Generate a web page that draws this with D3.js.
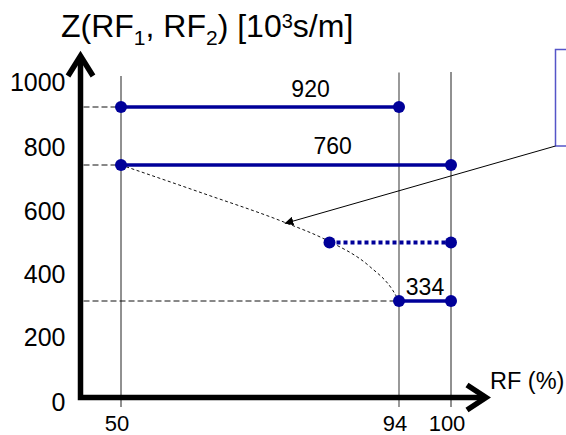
<!DOCTYPE html>
<html>
<head>
<meta charset="utf-8">
<script src="https://cdn.jsdelivr.net/npm/d3@7/dist/d3.min.js"></script>
<style>
  html, body { margin: 0; padding: 0; background: #fff; }
  svg { display: block; font-family: "Liberation Sans", Arial, sans-serif; }
</style>
</head>
<body>
<svg id="chart" width="566" height="435"></svg>
<script>
// ---------- data ----------
const segValues  = [920, 760, 500, 334];        // Z level of each horizontal segment
const segStartRF = [50, 50, 83, 94];            // RF where segment starts (%)
const segEndRF   = [94, 100, 100, 100];         // RF where segment ends (%)
const segDotted  = [false, false, true, false];
const segLabels  = ["920", "760", "", "334"];

const refValues  = [920, 760, 334];             // dashed guide lines to the Z axis
const refEndRF   = [50, 50, 94];

const curveRF = [50, 63, 76, 82.5, 89.4, 93, 94];
const curveZ  = [760, 652, 556, 507, 412, 357, 334];

const yTicks = [0, 200, 400, 600, 800, 1000];
const xTicks = [50, 94, 100];
const gridRF = [50, 94, 100];

const arrowTarget = {rf: 76, z: 554};

// ---------- layout ----------
const svg = d3.select("#chart");
const axisX = 80.5, axisY = 397.5, yTop = 55, xRight = 487;

// schematic (piecewise-linear) scales
const x = d3.scaleLinear().domain([50, 94, 100]).range([121, 399, 451]);
const y = d3.scaleLinear()
  .domain([0, 200, 334, 400, 500, 600, 760, 800, 920, 1000])
  .range([398, 333, 301, 270, 242.5, 207, 165, 143, 107, 78]);

const blue = "#000099";
const labelRF = [80, 83.5, null, 97];
const labelDy = [-10, -11, null, -6];

// grid verticals
const gridColors = ["#222", "#808080", "#222"];
const gridWidths = [1, 1.6, 1];
const gridTops = [76, 72.5, 72];
gridRF.forEach((v, i) => {
  svg.append("line")
    .attr("x1", x(v)).attr("x2", x(v))
    .attr("y1", gridTops[i]).attr("y2", 407)
    .attr("stroke", gridColors[i]).attr("stroke-width", gridWidths[i]);
});

// dashed guide lines
refValues.forEach((v, i) => {
  svg.append("line")
    .attr("x1", axisX + 3).attr("x2", x(refEndRF[i]))
    .attr("y1", y(v)).attr("y2", y(v))
    .attr("stroke", "#111").attr("stroke-width", 1)
    .attr("stroke-dasharray", "6,3");
});

// dashed curve
const curvePts = curveRF.map((r, i) => [r, curveZ[i]]);
svg.append("path")
  .datum(curvePts)
  .attr("d", d3.line().x(d => x(d[0])).y(d => y(d[1])).curve(d3.curveMonotoneX))
  .attr("fill", "none").attr("stroke", "#111").attr("stroke-width", 1)
  .attr("stroke-dasharray", "3,2.5");

// annotation box (cut off at the right)
svg.append("rect")
  .attr("x", 555.5).attr("y", 49.5).attr("width", 60).attr("height", 96.5)
  .attr("fill", "#fff").attr("stroke", "#5555c8").attr("stroke-width", 1.5);

// annotation arrow
svg.append("defs").append("marker")
  .attr("id", "ah").attr("viewBox", "0 0 10 10").attr("refX", 9).attr("refY", 5)
  .attr("markerWidth", 9).attr("markerHeight", 9).attr("markerUnits", "userSpaceOnUse")
  .attr("orient", "auto")
  .append("path").attr("d", "M0,0 L10,5 L0,10 Z").attr("fill", "#000");
svg.append("line")
  .attr("x1", 555.5).attr("y1", 146)
  .attr("x2", x(arrowTarget.rf)).attr("y2", y(arrowTarget.z))
  .attr("stroke", "#000").attr("stroke-width", 1)
  .attr("marker-end", "url(#ah)");

// segments
segValues.forEach((v, i) => {
  svg.append("line")
    .attr("x1", x(segStartRF[i])).attr("x2", x(segEndRF[i]))
    .attr("y1", y(v)).attr("y2", y(v))
    .attr("stroke", blue).attr("stroke-width", segDotted[i] ? 4 : 3.6)
    .attr("stroke-dasharray", segDotted[i] ? "4,3" : null);
  [segStartRF[i], segEndRF[i]].forEach(r => {
    svg.append("circle").attr("cx", x(r)).attr("cy", y(v)).attr("r", 6).attr("fill", blue);
  });
  if (segLabels[i]) {
    svg.append("text")
      .attr("x", x(labelRF[i])).attr("y", y(v) + labelDy[i])
      .attr("text-anchor", "middle").attr("font-size", 23).attr("fill", "#000")
      .text(segLabels[i]);
  }
});

// axes (thick L with chevron arrows)
svg.append("path")
  .attr("d", `M${axisX},${yTop + 2} V${axisY} H${xRight - 2}`)
  .attr("fill", "none").attr("stroke", "#000").attr("stroke-width", 5.5)
  .attr("stroke-linejoin", "miter");
svg.append("path")
  .attr("d", `M${axisX - 12.5},${yTop + 21} L${axisX},${yTop + 1} L${axisX + 12.5},${yTop + 21}`)
  .attr("fill", "none").attr("stroke", "#000").attr("stroke-width", 5.5)
  .attr("stroke-linejoin", "miter").attr("stroke-miterlimit", 10);
svg.append("path")
  .attr("d", `M${xRight - 20},${axisY - 12.5} L${xRight - 1},${axisY} L${xRight - 20},${axisY + 12.5}`)
  .attr("fill", "none").attr("stroke", "#000").attr("stroke-width", 5.5)
  .attr("stroke-linejoin", "miter").attr("stroke-miterlimit", 10);

// y tick labels
svg.append("g").selectAll("text").data(yTicks).join("text")
  .attr("x", 65.5).attr("y", d => y(d) + 4).attr("dy", "0.35em")
  .attr("text-anchor", "end").attr("font-size", 25).attr("fill", "#000")
  .text(d => d);

// x tick labels
svg.append("g").selectAll("text").data(xTicks).join("text")
  .attr("x", d => x(d) - 4).attr("y", 431)
  .attr("text-anchor", "middle").attr("font-size", 22).attr("fill", "#000")
  .text(d => d);

// axis titles
svg.append("text").attr("x", 490).attr("y", 389)
  .attr("font-size", 23.5).attr("fill", "#000").text("RF (%)");

const t = svg.append("text").attr("x", 61).attr("y", 36.7)
  .attr("font-size", 32).attr("fill", "#000");
t.append("tspan").text("Z(RF");
t.append("tspan").attr("font-size", 21).attr("dy", 8).text("1");
t.append("tspan").attr("dy", -8).text(", RF");
t.append("tspan").attr("font-size", 21).attr("dy", 8).text("2");
t.append("tspan").attr("dy", -8).text(") [10");
t.append("tspan").attr("font-size", 20).attr("dy", -8.5).text("3");
t.append("tspan").attr("dy", 8.5).text("s/m]");
</script>
</body>
</html>
